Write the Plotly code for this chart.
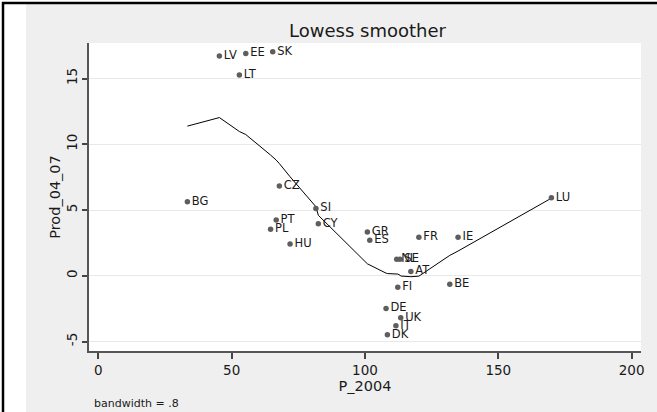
import plotly.graph_objects as go

countries = ["BG", "LV", "LT", "EE", "PL", "SK", "PT", "CZ", "HU", "SI", "CY", "GR", "ES",
             "DE", "DK", "IT", "NL", "FI", "SE", "UK", "AT", "FR", "BE", "IE", "LU"]
p_2004 = [33.4, 45.4, 52.9, 55.3, 64.6, 65.4, 66.7, 67.9, 71.9, 81.6, 82.5, 100.9, 101.8,
          107.9, 108.4, 111.6, 111.9, 112.3, 113.1, 113.4, 117.2, 120.2, 131.8, 134.9, 169.9]
prod_04_07 = [5.63, 16.71, 15.26, 16.91, 3.53, 17.03, 4.24, 6.82, 2.41, 5.12, 3.95, 3.32, 2.71,
              -2.48, -4.49, -3.80, 1.25, -0.88, 1.25, -3.19, 0.33, 2.92, -0.65, 2.92, 5.93]
lowess_fit = [11.38, 12.03, 10.97, 10.74, 9.18, 9.05, 8.80, 8.53, 7.53, 5.25, 4.60, 0.91, 0.81,
              0.20, 0.17, 0.15, 0.14, 0.13, 0.05, -0.02, -0.07, -0.03, 1.55, 1.88, 5.90]
x_ticks = [0, 50, 100, 150, 200]
x_tick_labels = ["0", "50", "100", "150", "200"]
y_ticks = [-5, 0, 5, 10, 15]
y_tick_labels = ["-5", "0", "5", "10", "15"]

FONT = "DejaVu Sans"
W, H = 657, 412
L, R, T, B = 89, 16, 43, 61
PW, PH = W - L - R, H - T - B


def px(xpix):
    return (xpix - L) / PW


def py(ypix):
    return 1 - (ypix - T) / PH


fig = go.Figure()

order = sorted(range(len(p_2004)), key=lambda i: p_2004[i])
fig.add_trace(go.Scatter(
    x=[p_2004[i] for i in order], y=[lowess_fit[i] for i in order],
    mode="lines", line=dict(color="black", width=1), showlegend=False, hoverinfo="skip"))

fig.add_trace(go.Scatter(
    x=p_2004, y=prod_04_07, mode="markers+text", text=countries,
    textposition="middle right",
    textfont=dict(family=FONT, size=11.5, color="#1a1a1a"),
    marker=dict(color="#5e5e5e", size=5.5),
    showlegend=False))

shapes = [
    dict(type="rect", xref="paper", yref="paper", x0=px(0), x1=px(26), y0=py(H), y1=py(0),
         fillcolor="white", line_width=0, layer="above"),
    dict(type="rect", xref="paper", yref="paper", x0=px(0), x1=px(W), y0=py(3), y1=py(0),
         fillcolor="white", line_width=0, layer="above"),
    dict(type="line", xref="paper", yref="paper", x0=px(2), x1=px(W), y0=py(3), y1=py(3),
         line=dict(color="black", width=2.5), layer="above"),
    dict(type="line", xref="paper", yref="paper", x0=px(3), x1=px(3), y0=py(2), y1=py(H),
         line=dict(color="black", width=2.5), layer="above"),
]

annotations = [
    dict(text="Lowess smoother", xref="paper", yref="paper", x=px(367), y=py(30),
         xanchor="center", yanchor="middle", showarrow=False,
         font=dict(family=FONT, size=18, color="#1a1a1a")),
    dict(text="bandwidth = .8", xref="paper", yref="paper", x=px(92), y=py(403),
         xanchor="left", yanchor="middle", showarrow=False,
         font=dict(family=FONT, size=11, color="#1a1a1a")),
]

fig.update_layout(
    width=W, height=H,
    margin=dict(l=L, r=R, t=T, b=B),
    paper_bgcolor="#efefef", plot_bgcolor="white",
    font=dict(family=FONT, color="#1a1a1a"),
    shapes=shapes, annotations=annotations,
    xaxis=dict(range=[-3.49, 203.5], tickvals=x_ticks, ticktext=x_tick_labels,
               ticks="outside", ticklen=6,
               tickcolor="#444", tickwidth=1.5, showgrid=False, zeroline=False,
               showline=True, linecolor="#555", linewidth=2,
               tickfont=dict(family=FONT, size=13.5, color="#1a1a1a"),
               title=dict(text="P_2004", font=dict(family=FONT, size=14.5, color="#1a1a1a"),
                          standoff=1)),
    yaxis=dict(range=[-5.72, 17.70], tickvals=y_ticks, ticktext=y_tick_labels,
               ticks="outside", ticklen=5,
               tickcolor="#444", tickwidth=1.5, showgrid=True, gridcolor="#e8e8e8",
               gridwidth=1, zeroline=False, tickangle=-90,
               showline=True, linecolor="#555", linewidth=2,
               tickfont=dict(family=FONT, size=13.5, color="#1a1a1a"),
               title=dict(text="Prod_04_07", font=dict(family=FONT, size=14.5, color="#1a1a1a"),
                          standoff=0)),
)

fig.write_html("out.html")
